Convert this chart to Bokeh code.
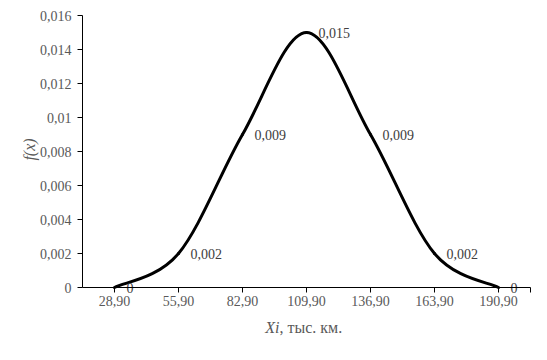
import math
from bokeh.plotting import figure
from bokeh.models import FixedTicker, ColumnDataSource, Range1d, Label
from bokeh.core.properties import value
from bokeh.embed import file_html
from bokeh.resources import INLINE

# ---- data ----
categories = ["28,90", "55,90", "82,90", "109,90", "136,90", "163,90", "190,90"]
fx_values = [0.0, 0.002, 0.009, 0.015, 0.009, 0.002, 0.0]
value_labels = ["0", "0,002", "0,009", "0,015", "0,009", "0,002", "0"]
y_ticks = [0.0, 0.002, 0.004, 0.006, 0.008, 0.010, 0.012, 0.014, 0.016]
y_tick_labels = ["0", "0,002", "0,004", "0,006", "0,008", "0,01", "0,012", "0,014", "0,016"]
x_title_italic = "Xi"
x_title_rest = ", тыс. км."
y_title = "f(x)"

FONT = "Liberation Serif"
GRAY = "#595959"

# ---- layout geometry (pixels) ----
W, H = 547, 360
LEFT, RIGHT, TOP, BOTTOM = 82, 530, 15, 287   # plot area in the canvas
Y_MAX = 0.016
ncat = len(categories)
xs = list(range(ncat))
x_lo, x_hi = -0.5, ncat - 0.5
px_x = (RIGHT - LEFT) / (x_hi - x_lo)
px_y = (BOTTOM - TOP) / Y_MAX

# frame covers the whole canvas; axes are pinned at the plot-area edges
p = figure(width=W, height=H, output_backend="svg", toolbar_location=None,
           x_range=Range1d(x_lo - LEFT / px_x, x_hi + (W - RIGHT) / px_x),
           y_range=Range1d(-(H - BOTTOM) / px_y, Y_MAX + TOP / px_y),
           min_border=0)
p.outline_line_color = None
p.xgrid.grid_line_color = None
p.ygrid.grid_line_color = None
p.background_fill_color = "white"
p.border_fill_color = "white"

# smoothed line (Catmull-Rom style bezier segments, like Excel's smoothed line)
def pt(i):
    i = max(0, min(ncat - 1, i))
    return xs[i], fx_values[i]
x0, y0, x1, y1, cx0, cy0, cx1, cy1 = [], [], [], [], [], [], [], []
for i in range(ncat - 1):
    pa = pt(i - 1); pb = pt(i); pc = pt(i + 1); pd = pt(i + 2)
    x0.append(pb[0]); y0.append(pb[1]); x1.append(pc[0]); y1.append(pc[1])
    cx0.append(pb[0] + (pc[0] - pa[0]) / 6); cy0.append(pb[1] + (pc[1] - pa[1]) / 6)
    cx1.append(pc[0] - (pd[0] - pb[0]) / 6); cy1.append(pc[1] - (pd[1] - pb[1]) / 6)
p.bezier(x0=x0, y0=y0, x1=x1, y1=y1, cx0=cx0, cy0=cy0, cx1=cx1, cy1=cy1,
         line_color="black", line_width=3, line_cap="round")

# data labels
src = ColumnDataSource(dict(x=xs, y=fx_values, t=value_labels))
p.text(x="x", y="y", text="t", source=src, x_offset=12, text_align="left",
       text_baseline="middle", text_font=value(FONT), text_font_size="14px",
       text_color="#404040")

# axes
p.xaxis.fixed_location = 0
p.xaxis.bounds = (x_lo, x_hi)
p.yaxis.fixed_location = x_lo
p.yaxis.bounds = (0, Y_MAX)
p.xaxis.ticker = FixedTicker(ticks=xs + [x_hi])
overrides = {x: c for x, c in zip(xs, categories)}
overrides[x_hi] = ""
p.xaxis.major_label_overrides = overrides
p.yaxis.ticker = FixedTicker(ticks=y_ticks)
p.yaxis.major_label_overrides = {t: l for t, l in zip(y_ticks, y_tick_labels)}
for ax in (p.xaxis, p.yaxis):
    ax.axis_line_color = "black"
    ax.axis_line_width = 1
    ax.major_tick_line_color = "black"
    ax.major_tick_out = 5
    ax.major_tick_in = 0
    ax.minor_tick_line_color = None
    ax.major_label_text_font = FONT
    ax.major_label_text_font_size = "14px"
    ax.major_label_text_color = GRAY
p.xaxis.major_label_standoff = 3
p.yaxis.major_label_standoff = 6

# axis titles (canvas pixel units; frame = canvas so nothing is clipped)
p.add_layout(Label(x=29, y=149, x_units="canvas", y_units="canvas", text=y_title,
                   angle=math.pi / 2, text_align="center", text_baseline="middle",
                   text_font=FONT, text_font_size="16px", text_font_style="italic",
                   text_color=GRAY))
p.add_layout(Label(x=279, y=327, x_units="canvas", y_units="canvas", text=x_title_italic,
                   text_align="right", text_baseline="middle",
                   text_font=FONT, text_font_size="16px", text_font_style="italic",
                   text_color=GRAY))
p.add_layout(Label(x=279, y=327, x_units="canvas", y_units="canvas", text=x_title_rest,
                   text_align="left", text_baseline="middle",
                   text_font=FONT, text_font_size="16px", text_color=GRAY))

open("out.html", "w").write(file_html(p, INLINE))
